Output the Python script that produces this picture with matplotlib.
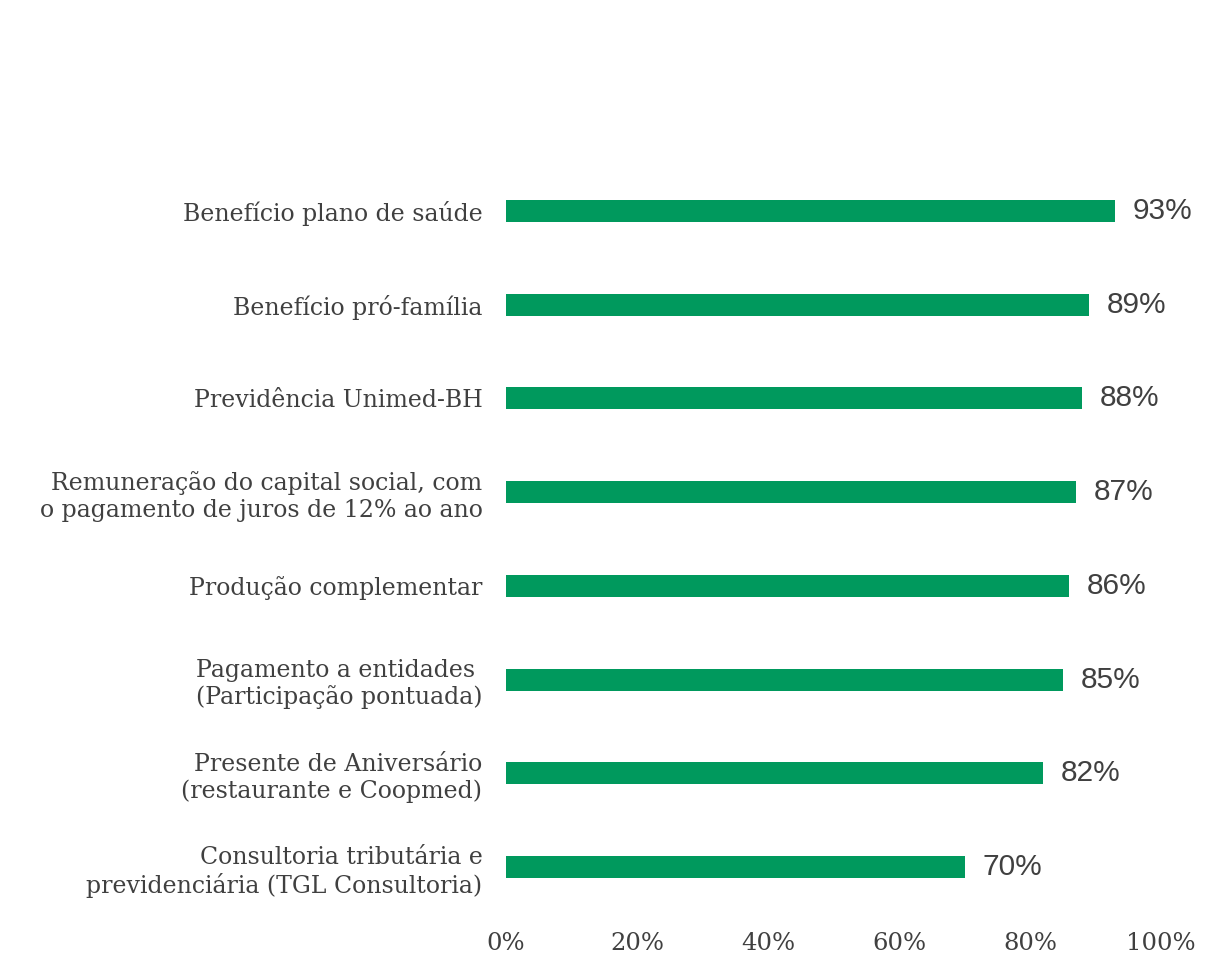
import matplotlib
matplotlib.use("Agg")
import matplotlib.pyplot as plt

categories = [
    "Benefício plano de saúde",
    "Benefício pró-família",
    "Previdência Unimed-BH",
    "Remuneração do capital social, com\no pagamento de juros de 12% ao ano",
    "Produção complementar",
    "Pagamento a entidades \n(Participação pontuada)",
    "Presente de Aniversário\n(restaurante e Coopmed)",
    "Consultoria tributária e\nprevidenciária (TGL Consultoria)",
]
values = [93, 89, 88, 87, 86, 85, 82, 70]
xticks = [0, 20, 40, 60, 80, 100]
xtick_labels = ["0%", "20%", "40%", "60%", "80%", "100%"]

GREEN = "#00995D"
TEXT = "#404040"

fig = plt.figure(figsize=(12.29, 9.58), dpi=100)
ax = fig.add_axes([506/1229, 1-914/958, (1161-506)/1229, (914-164)/958])

y = list(range(len(categories)))
ax.barh(y, values, height=0.235, color=GREEN)
ax.set_ylim(len(categories)-0.5, -0.5)
ax.set_xlim(0, 100)

for yi, v in zip(y, values):
    ax.text(v + 2.7, yi, f"{v}%", va="center", ha="left",
            fontsize=21.5, family="Liberation Sans", color=TEXT)

ax.set_yticks(y)
ax.set_yticklabels(categories, fontsize=17, family="DejaVu Serif",
                   color=TEXT, linespacing=1.2)
for lbl in ax.get_yticklabels():
    lbl.set_multialignment("right")
ax.tick_params(axis="y", length=0, pad=17)

ax.set_xticks(xticks)
ax.set_xticklabels(xtick_labels, fontsize=17.5, family="DejaVu Serif", color=TEXT)
ax.tick_params(axis="x", length=0, pad=13)

for s in ax.spines.values():
    s.set_visible(False)

fig.savefig("out.png", dpi=100, facecolor="white")
